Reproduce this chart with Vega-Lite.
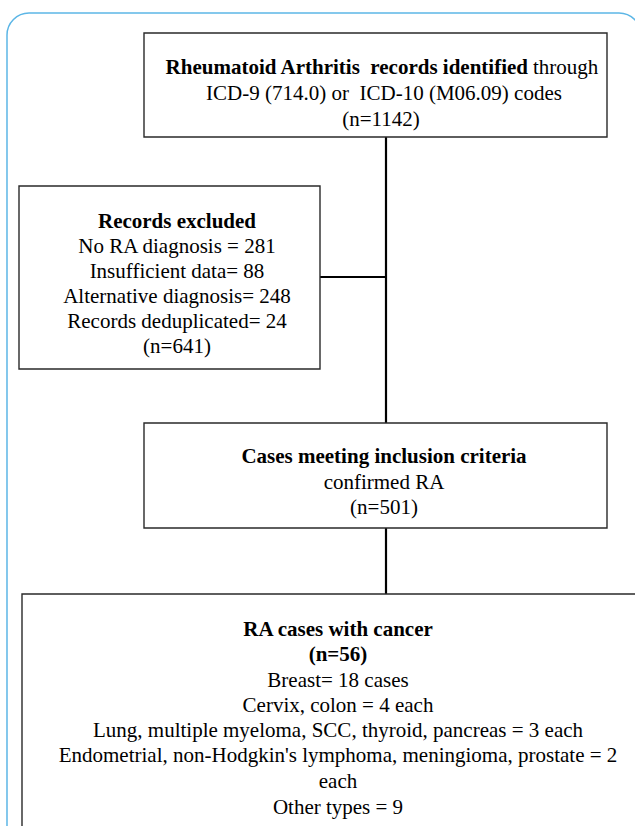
{
  "$schema": "https://vega.github.io/schema/vega-lite/v6.json",
  "width": 635,
  "height": 826,
  "padding": 0,
  "autosize": {"type": "none"},
  "background": "white",
  "config": {"view": {"stroke": null}, "font": "Liberation Serif"},
  "datasets": {
    "frame": [
      {"x": 7, "x2": 641, "y": 13, "y2": 900}
    ],
    "boxes": [
      {"id": "identified", "x": 144, "x2": 607, "y": 33, "y2": 137},
      {"id": "excluded", "x": 19, "x2": 320, "y": 186, "y2": 369},
      {"id": "included", "x": 144, "x2": 607, "y": 423, "y2": 528},
      {"id": "cancer", "x": 22, "x2": 660, "y": 594, "y2": 900}
    ],
    "links": [
      {"x": 386, "x2": 386, "y": 137, "y2": 423},
      {"x": 320, "x2": 386, "y": 277, "y2": 277},
      {"x": 386, "x2": 386, "y": 528, "y2": 594}
    ],
    "labels": [
      {"kind": "lead", "x": 528, "y": 68, "text": "Rheumatoid Arthritis\u00a0 records identified"},
      {"kind": "tail", "x": 533, "y": 68, "text": "through"},
      {"kind": "line", "x": 384, "y": 94, "text": "ICD-9 (714.0) or\u00a0 ICD-10 (M06.09) codes"},
      {"kind": "line", "x": 381, "y": 120, "text": "(n=1142)"},
      {"kind": "title", "x": 177, "y": 222, "text": "Records excluded"},
      {"kind": "line", "x": 177, "y": 247, "text": "No RA diagnosis = 281"},
      {"kind": "line", "x": 177, "y": 272, "text": "Insufficient data= 88"},
      {"kind": "line", "x": 177, "y": 297, "text": "Alternative diagnosis= 248"},
      {"kind": "line", "x": 177, "y": 322, "text": "Records deduplicated= 24"},
      {"kind": "line", "x": 177, "y": 347, "text": "(n=641)"},
      {"kind": "title", "x": 384, "y": 457, "text": "Cases meeting inclusion criteria"},
      {"kind": "line", "x": 384, "y": 483, "text": "confirmed RA"},
      {"kind": "line", "x": 384, "y": 508, "text": "(n=501)"},
      {"kind": "title", "x": 338, "y": 630, "text": "RA cases with cancer"},
      {"kind": "title", "x": 338, "y": 655, "text": "(n=56)"},
      {"kind": "line", "x": 338, "y": 681, "text": "Breast= 18 cases"},
      {"kind": "line", "x": 338, "y": 706, "text": "Cervix, colon = 4 each"},
      {"kind": "line", "x": 338, "y": 731, "text": "Lung, multiple myeloma, SCC, thyroid, pancreas = 3 each"},
      {"kind": "line", "x": 338, "y": 756, "text": "Endometrial, non-Hodgkin's lymphoma, meningioma, prostate = 2"},
      {"kind": "line", "x": 338, "y": 782, "text": "each"},
      {"kind": "line", "x": 338, "y": 808, "text": "Other types = 9"}
    ]
  },
  "encoding": {
    "x": {"field": "x", "type": "quantitative", "axis": null,
          "scale": {"domain": [0, 635], "nice": false, "zero": false}},
    "y": {"field": "y", "type": "quantitative", "axis": null,
          "scale": {"domain": [0, 826], "nice": false, "zero": false, "reverse": true}}
  },
  "layer": [
    {
      "data": {"name": "frame"},
      "mark": {"type": "rect", "filled": false, "stroke": "#5cb6e6", "strokeWidth": 1.5, "cornerRadius": 22},
      "encoding": {"x2": {"field": "x2"}, "y2": {"field": "y2"}}
    },
    {
      "data": {"name": "links"},
      "mark": {"type": "rule", "stroke": "black", "strokeWidth": 2.2},
      "encoding": {"x2": {"field": "x2"}, "y2": {"field": "y2"}}
    },
    {
      "data": {"name": "boxes"},
      "mark": {"type": "rect", "fill": "white", "stroke": "#2a2a2a", "strokeWidth": 1.4},
      "encoding": {"x2": {"field": "x2"}, "y2": {"field": "y2"}}
    },
    {
      "data": {"name": "labels"},
      "transform": [{"filter": "datum.kind == 'line'"}],
      "mark": {"type": "text", "font": "Liberation Serif", "fontSize": 21, "fontWeight": 400, "align": "center"},
      "encoding": {"text": {"field": "text"}}
    },
    {
      "data": {"name": "labels"},
      "transform": [{"filter": "datum.kind == 'tail'"}],
      "mark": {"type": "text", "font": "Liberation Serif", "fontSize": 21, "fontWeight": 400, "align": "left"},
      "encoding": {"text": {"field": "text"}}
    },
    {
      "data": {"name": "labels"},
      "transform": [{"filter": "datum.kind == 'title'"}],
      "mark": {"type": "text", "font": "Liberation Serif", "fontSize": 21, "fontWeight": 700, "align": "center"},
      "encoding": {"text": {"field": "text"}}
    },
    {
      "data": {"name": "labels"},
      "transform": [{"filter": "datum.kind == 'lead'"}],
      "mark": {"type": "text", "font": "Liberation Serif", "fontSize": 21, "fontWeight": 700, "align": "right"},
      "encoding": {"text": {"field": "text"}}
    }
  ]
}
